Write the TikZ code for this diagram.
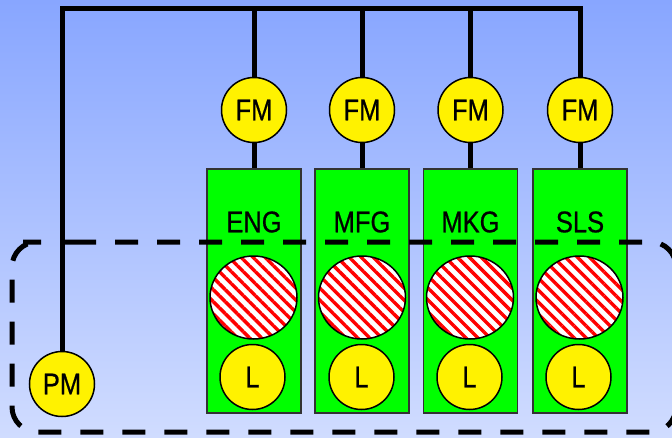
\documentclass[tikz,border=0pt]{standalone}
\usepackage{fontspec}
\newfontfamily\diagfont{Liberation Sans}[FakeStretch=0.85, FakeBold=0.6]
\usetikzlibrary{patterns.meta, shapes.geometric}

\definecolor{skytop}{RGB}{136,166,255}
\definecolor{skybottom}{RGB}{208,220,255}
\definecolor{deptgreen}{RGB}{0,255,0}

\tikzset{
	wire/.style={line width=5pt, line join=miter},
	module/.style={shape=circle, draw, line width=1.5pt, fill=yellow, minimum size=65pt, inner sep=0pt, font=\diagfont\fontsize{30}{32}\selectfont},
	dept/.style={shape=rectangle, draw=black!80, line width=1.5pt, fill=deptgreen, minimum width=94pt, minimum height=244pt},
	deptlabel/.style={inner sep=0pt, font=\diagfont\fontsize{30}{32}\selectfont},
	store/.style={shape=ellipse, draw, line width=1.5pt, minimum width=87pt, minimum height=83pt, inner sep=0pt, preaction={fill=white}, pattern={Lines[angle=-45, distance=8.5pt, line width=3.4pt]}, pattern color=red},
	boundary/.style={line width=5pt, dash pattern=on 23pt off 19pt, rounded corners=25pt}
}

\begin{document}
\begin{tikzpicture}[x=1pt, y=-1pt]
	% Background:
	\shade[top color=skytop, bottom color=skybottom] (0,0) rectangle (672,437);
	\useasboundingbox (0,0) rectangle (672,437);

	% Departments:
	\node[dept] (deptENG) at (254,291){};
	\node[dept] (deptMFG) at (362,291){};
	\node[dept] (deptMKG) at (470.5,291){};
	\node[dept] (deptSLS) at (580,291){};
	\node[deptlabel] (lblENG) at (254,222){ENG};
	\node[deptlabel] (lblMFG) at (362,222){MFG};
	\node[deptlabel] (lblMKG) at (470.5,222){MKG};
	\node[deptlabel] (lblSLS) at (580,222){SLS};
	\node[store] (storeENG) at (253.5,297.5){};
	\node[store] (storeMFG) at (362,297.5){};
	\node[store] (storeMKG) at (470,297.5){};
	\node[store] (storeSLS) at (579.5,297.5){};
	\node[module] (locENG) at (252.5,377){L};
	\node[module] (locMFG) at (361.5,377){L};
	\node[module] (locMKG) at (469.5,377){L};
	\node[module] (locSLS) at (578.5,377){L};

	% Managers:
	\node[module] (fmENG) at (254,110){FM};
	\node[module] (fmMFG) at (362,110){FM};
	\node[module] (fmMKG) at (470.5,110){FM};
	\node[module] (fmSLS) at (580,110){FM};
	\node[module] (pm) at (62,384){PM};

	% Paths and wires:
	\coordinate (busL) at (62,8);
	\coordinate (busR) at (580,8);
	\draw[wire] (pm) -- (busL) -- (busR) -- (fmSLS);
	\draw[wire] (fmENG) -- (fmENG |- busL);
	\draw[wire] (fmMFG) -- (fmMFG |- busL);
	\draw[wire] (fmMKG) -- (fmMKG |- busL);
	\draw[wire] (fmENG) -- (deptENG);
	\draw[wire] (fmMFG) -- (deptMFG);
	\draw[wire] (fmMKG) -- (deptMKG);
	\draw[wire] (fmSLS) -- (deptSLS);

	% Boundary:
	\draw[boundary] (48,242) -- (676,242) -- (676,432) -- (12,432) -- (12,242) -- cycle;
\end{tikzpicture}
\end{document}
